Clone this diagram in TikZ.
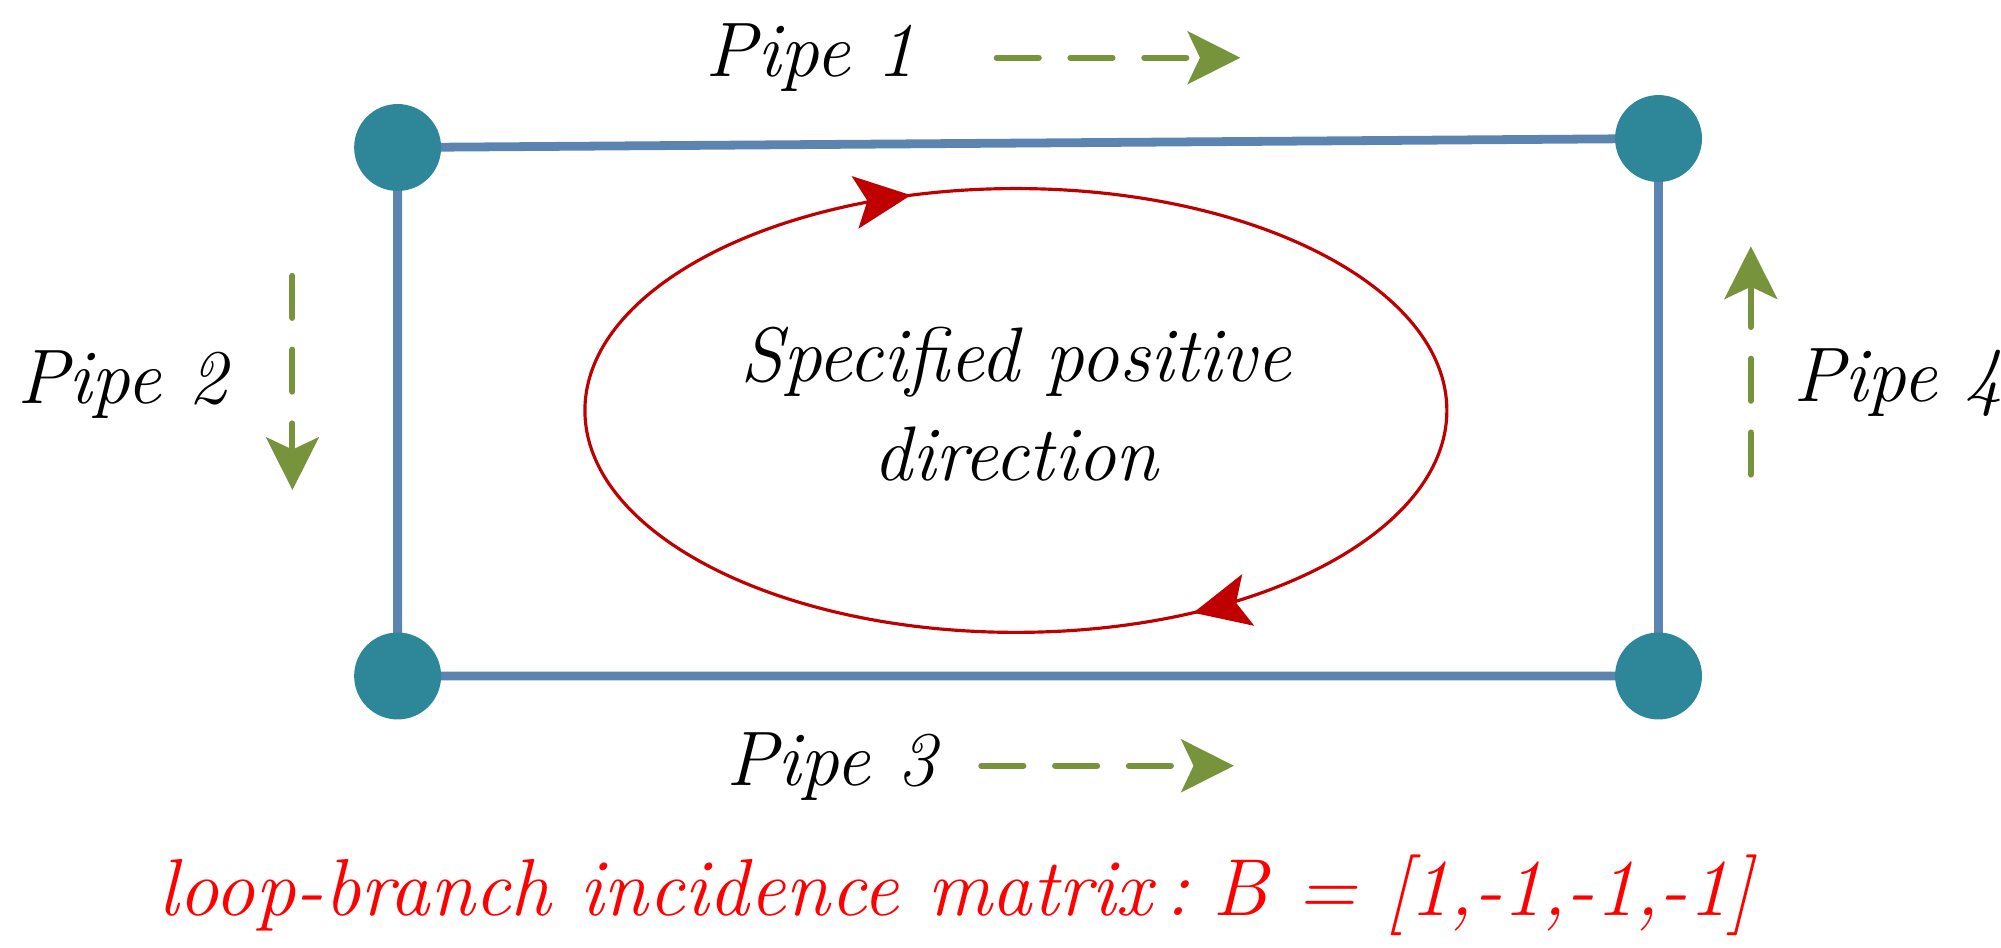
\documentclass[tikz,border=0pt]{standalone}
\usetikzlibrary{arrows.meta,decorations.markings}
\definecolor{teal2}{HTML}{2E8799}
\definecolor{pipeblue}{HTML}{5B84B1}
\definecolor{loopred}{HTML}{C00000}
\definecolor{grn}{HTML}{77933C}
\begin{document}
\begin{tikzpicture}[x=0.01283cm,y=-0.01283cm,
  junction/.style={circle,fill=teal2,minimum size=0.87cm,inner sep=0pt},
  pipe/.style={pipeblue,line width=2.5pt},
  flow/.style={grn,line width=1.7pt,dash pattern=on 12pt off 9pt,line cap=round,
     -{Stealth[length=15pt,width=15pt,inset=3.5pt]}},
  lbl/.style={font=\fontsize{22}{26}\selectfont\itshape}]
\useasboundingbox (0,0) rectangle (1560,739);
\draw[pipe] (310,115) -- (1293,108) (310,115) -- (310,527) -- (1293,527) -- (1293,108);
\node[junction] (n1) at (310,115) {};
\node[junction] (n2) at (1293,108) {};
\node[junction] (n3) at (310,527) {};
\node[junction] (n4) at (1293,527) {};
\draw[loopred,line width=0.9pt,
  decoration={markings,
    mark=at position 0.2 with {\arrow{Stealth[length=16pt,width=15pt,inset=3.5pt]}},
    mark=at position 0.665 with {\arrow{Stealth[length=16pt,width=15pt,inset=3.5pt]}}},
  postaction={decorate}]
  (456,320) arc[start angle=180,end angle=-180,x radius=336,y radius=-173];
\node[lbl] (c1) at (792,282) {Specified positive};
\node[lbl] (c2) at (792,354) {direction};
\node[lbl] (p1) at (632,45) {Pipe 1};
\node[lbl] (p2) at (95,300) {Pipe 2};
\node[lbl] (p3) at (648,598) {Pipe 3};
\node[lbl] (p4) at (1480,298) {Pipe 4};
\coordinate (a1s) at (777,45); \coordinate (a1e) at (967,45);
\coordinate (a2s) at (228,215); \coordinate (a2e) at (228,382);
\coordinate (a3s) at (765,597); \coordinate (a3e) at (962,597);
\coordinate (a4s) at (1365,370); \coordinate (a4e) at (1365,192);
\draw[flow] (a1s) -- (a1e);
\draw[flow] (a2s) -- (a2e);
\draw[flow] (a3s) -- (a3e);
\draw[flow] (a4s) -- (a4e);
\node[font=\fontsize{23}{28}\selectfont\itshape,text=red] (b) at (745,698)
  {loop-branch incidence matrix\,:\;B = [1,-1,-1,-1]};
\end{tikzpicture}
\end{document}
